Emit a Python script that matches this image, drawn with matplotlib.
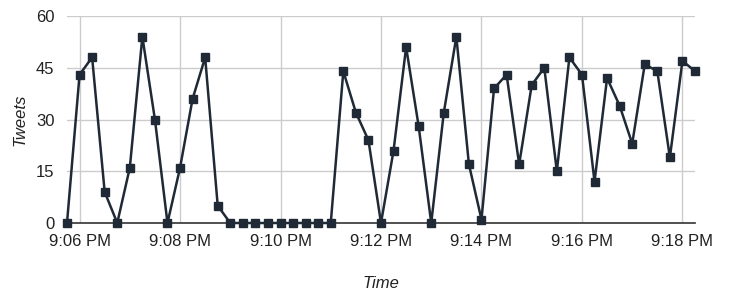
import matplotlib
matplotlib.use("Agg")
import matplotlib.pyplot as plt
import matplotlib.dates as mdates
import pandas as pd

start_time = "2020-01-01 21:05:45"
interval = "15s"
tweets = [0, 43, 48, 9, 0, 16, 54, 30, 0, 16, 36, 48, 5, 0, 0, 0, 0, 0, 0, 0,
          0, 0, 44, 32, 24, 0, 21, 51, 28, 0, 32, 54, 17, 1, 39, 43, 17, 40, 45, 15,
          48, 43, 12, 42, 34, 23, 46, 44, 19, 47, 44]
tick_times = ["21:06", "21:08", "21:10", "21:12", "21:14", "21:16", "21:18"]
y_ticks = [0, 15, 30, 45, 60]

times = pd.date_range(start_time, periods=len(tweets), freq=interval)

plt.rcParams['font.family'] = ['Liberation Sans', 'DejaVu Sans']
fig = plt.figure(figsize=(7.46, 3.02), dpi=100)
ax = fig.add_axes([67/746, 1 - 223/302, (695-67)/746, (223-16)/302])

line_color = "#1f2a36"
ax.plot(times, tweets, color=line_color, lw=1.8, marker="s", markersize=5.5,
        markerfacecolor=line_color, markeredgecolor=line_color, zorder=3, clip_on=False)

ax.set_xlim(times[0], times[-1])
ax.set_ylim(0, 60)
ax.set_yticks(y_ticks)
ticks = [pd.Timestamp("2020-01-01 " + t) for t in tick_times]
ax.set_xticks(ticks)
ax.xaxis.set_major_formatter(mdates.DateFormatter("%-I:%M %p"))

ax.grid(True, color="#cccccc", lw=1)
ax.set_axisbelow(True)
for s in ["top", "right", "left"]:
    ax.spines[s].set_visible(False)
ax.spines["bottom"].set_color("#333333")
ax.spines["bottom"].set_linewidth(1.2)
ax.tick_params(axis="both", length=0, labelsize=12, colors="#222222")
ax.tick_params(axis="x", pad=8)
ax.tick_params(axis="y", pad=9)

ax.set_ylabel("Tweets", fontsize=12, style="italic", color="#222222", labelpad=6)
ax.set_xlabel("Time", fontsize=12, style="italic", color="#222222", labelpad=19)

fig.savefig("out.png", dpi=100)
